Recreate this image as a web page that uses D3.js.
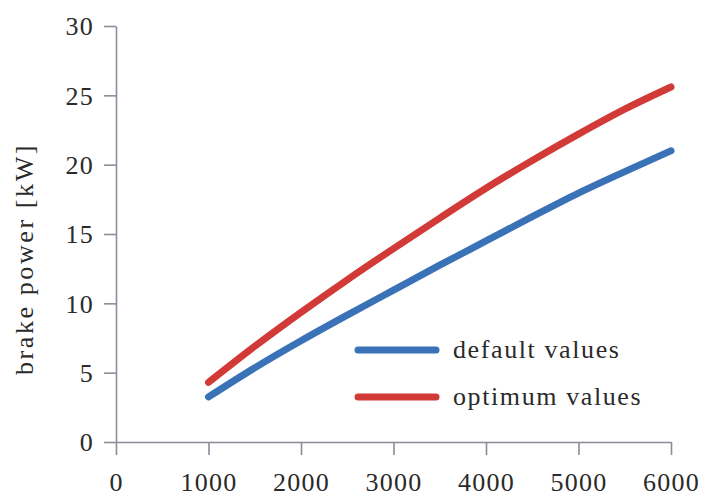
<!DOCTYPE html>
<html><head><meta charset="utf-8">
<script src="https://cdn.jsdelivr.net/npm/d3@7"></script>
<style>body{margin:0;background:#fff}</style>
</head><body>
<svg id="c" width="709" height="497"></svg>
<script>
const rpm = [1000,1500,2000,2500,3000,3500,4000,4500,5000,5500,6000];
const defaultValues = [3.25,5.35,7.3,9.15,10.95,12.75,14.5,16.25,17.95,19.5,21.0];
const optimumValues = [4.3,6.9,9.35,11.7,13.95,16.15,18.3,20.3,22.2,24.0,25.6];
const xTicks = [0,1000,2000,3000,4000,5000,6000];
const yTicks = [0,5,10,15,20,25,30];
const seriesNames = ["default values","optimum values"];
const colors = ["#3a72b8","#d13a36"];

const svg = d3.select("#c");
const x = d3.scaleLinear().domain([0,6000]).range([116,671]);
const y = d3.scaleLinear().domain([0,30]).range([442,26]);
const font = "Liberation Serif";
const axisCol = "#8c8c9c";

const gx = svg.append("g").attr("transform","translate(0,442)")
  .call(d3.axisBottom(x).tickValues(xTicks).tickSize(13).tickSizeOuter(0).tickPadding(18).tickFormat(d3.format("d")));
const gy = svg.append("g").attr("transform","translate(116,0)")
  .call(d3.axisLeft(y).tickValues(yTicks).tickSize(12).tickSizeOuter(0).tickPadding(10).tickFormat(d3.format("d")));
[gx,gy].forEach(g=>{
  g.selectAll("path,line").attr("stroke",axisCol).attr("stroke-width",1.6);
  g.selectAll("text").attr("fill","#2a2a2a").style("font-family",font).style("font-size","26px").style("letter-spacing","1.2px");
});
gx.selectAll("text").attr("dy","0.71em");
gy.selectAll("text").attr("dy","0.34em");

svg.append("text").attr("transform","translate(33,259) rotate(-90)")
  .attr("text-anchor","middle").attr("fill","#2a2a2a")
  .style("font-family",font).style("font-size","26px").style("letter-spacing","2.6px")
  .text("brake power [kW]");

const line = d3.line().x((d,i)=>x(rpm[i])).y(d=>y(d)).curve(d3.curveMonotoneX);
[defaultValues,optimumValues].forEach((vals,k)=>{
  svg.append("path").attr("d",line(vals)).attr("fill","none")
    .attr("stroke",colors[k]).attr("stroke-width",7).attr("stroke-linecap","round").attr("stroke-linejoin","round");
});

const legY = [350,397];
seriesNames.forEach((n,k)=>{
  svg.append("line").attr("x1",358).attr("x2",436).attr("y1",legY[k]).attr("y2",legY[k])
    .attr("stroke",colors[k]).attr("stroke-width",7).attr("stroke-linecap","round");
  svg.append("text").attr("x",453).attr("y",legY[k]+8).attr("fill","#2a2a2a")
    .style("font-family",font).style("font-size","26px").style("letter-spacing","1.6px")
    .text(n);
});
</script>
</body></html>
